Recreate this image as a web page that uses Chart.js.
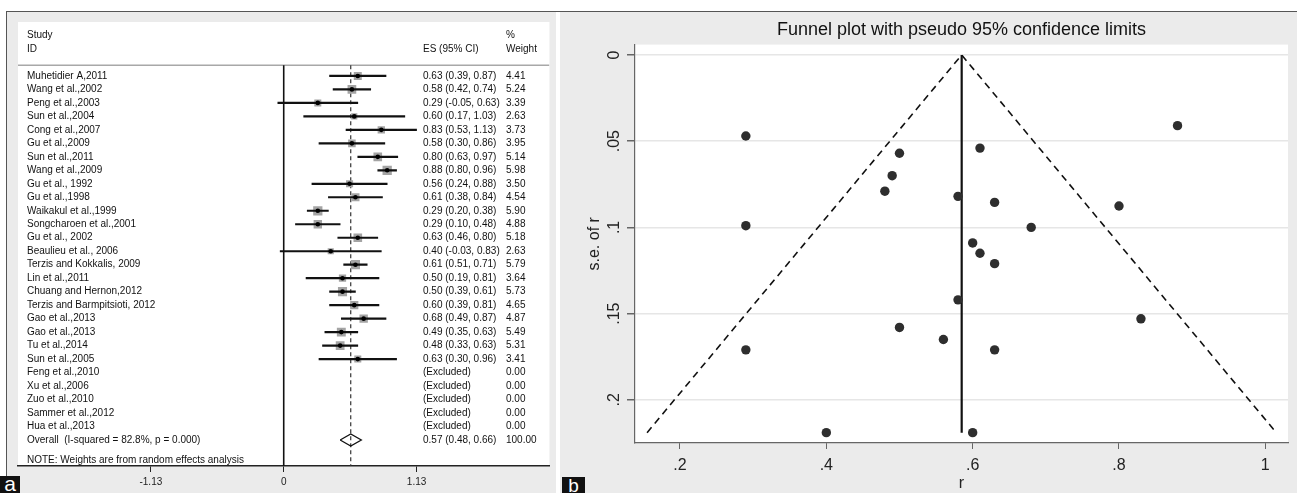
<!DOCTYPE html>
<html>
<head>
<meta charset="utf-8">
<script src="https://cdn.jsdelivr.net/npm/chart.js@4.4.1/dist/chart.umd.min.js"></script>
<style>
  body { margin: 0; width: 1297px; height: 493px; position: relative; overflow: hidden; background: #fff; font-family: "Liberation Sans", Arial, sans-serif; }
  .panel { position: absolute; background: #ebebeb; }
  canvas { position: absolute; }
  .tag { position: absolute; background: #111; color: #fff; text-align: center; overflow: hidden; }
</style>
</head>
<body>
<div class="panel" style="left:6px;top:11px;width:550px;height:482px;border-left:1px solid #555;box-sizing:border-box"></div>
<div class="panel" style="left:560px;top:11px;width:737px;height:482px"></div>
<div style="position:absolute;left:6px;top:11px;width:1291px;height:1px;background:#555"></div>
<canvas id="forest" width="550" height="481" style="left:6px;top:12px"></canvas>
<canvas id="funnel" width="737" height="481" style="left:560px;top:12px"></canvas>
<div class="tag" style="left:0;top:476px;width:20px;height:17px;font-size:21px;line-height:15px">a</div>
<div class="tag" style="left:562px;top:477px;width:23px;height:16px;font-size:19px;line-height:17px">b</div>
<script>
// ---- forest plot data (panel a) ----
const studies = [
  "Muhetidier A,2011", "Wang et al.,2002", "Peng et al.,2003", "Sun et al.,2004", "Cong et al.,2007",
  "Gu et al.,2009", "Sun et al.,2011", "Wang et al.,2009", "Gu et al., 1992", "Gu et al.,1998",
  "Waikakul et al.,1999", "Songcharoen et al.,2001", "Gu et al., 2002", "Beaulieu et al., 2006",
  "Terzis and Kokkalis, 2009", "Lin et al.,2011", "Chuang and Hernon,2012", "Terzis and Barmpitsioti, 2012",
  "Gao et al.,2013", "Gao et al.,2013", "Tu et al.,2014", "Sun et al.,2005",
  "Feng et al.,2010", "Xu et al.,2006", "Zuo et al.,2010", "Sammer et al.,2012", "Hua et al.,2013"
];
const esVals = [0.63, 0.58, 0.29, 0.60, 0.83, 0.58, 0.80, 0.88, 0.56, 0.61, 0.29, 0.29, 0.63, 0.40,
  0.61, 0.50, 0.50, 0.60, 0.68, 0.49, 0.48, 0.63, null, null, null, null, null];
const ciLow = [0.39, 0.42, -0.05, 0.17, 0.53, 0.30, 0.63, 0.80, 0.24, 0.38, 0.20, 0.10, 0.46, -0.03,
  0.51, 0.19, 0.39, 0.39, 0.49, 0.35, 0.33, 0.30, null, null, null, null, null];
const ciHigh = [0.87, 0.74, 0.63, 1.03, 1.13, 0.86, 0.97, 0.96, 0.88, 0.84, 0.38, 0.48, 0.80, 0.83,
  0.71, 0.81, 0.61, 0.81, 0.87, 0.63, 0.63, 0.96, null, null, null, null, null];
const weights = [4.41, 5.24, 3.39, 2.63, 3.73, 3.95, 5.14, 5.98, 3.50, 4.54, 5.90, 4.88, 5.18, 2.63,
  5.79, 3.64, 5.73, 4.65, 4.87, 5.49, 5.31, 3.41, 0, 0, 0, 0, 0];
const overallES = 0.57, overallLow = 0.48, overallHigh = 0.66, overallWeight = 100;
const overallLabel = "Overall  (I-squared = 82.8%, p = 0.000)";
const noteLabel = "NOTE: Weights are from random effects analysis";
const forestTicks = [-1.13, 0, 1.13];

// ---- funnel plot data (panel b) ----
const funnelR = [0.29, 0.29, 0.50, 0.49, 0.48, 0.58, 0.60, 0.88, 0.61, 0.63, 0.80, 0.68, 0.61, 0.63,
  0.83, 0.63, 0.60, 0.58, 0.50, 0.56, 0.29, 0.40];
const funnelSE = [0.047, 0.099, 0.057, 0.070, 0.079, 0.082, 0.109, 0.041, 0.054, 0.0855, 0.0876, 0.100,
  0.115, 0.121, 0.153, 0.171, 0.219, 0.142, 0.158, 0.165, 0.171, 0.219];
const funnelApex = [0.585, 0];
const funnelLimitsR = [0.155, 0.585, 1.015];
const funnelLimitsSE = [0.219, 0, 0.219];
const funnelTicksR = [0.2, 0.4, 0.6, 0.8, 1];
const funnelTicksSE = [0, 0.05, 0.1, 0.15, 0.2];

const FONT = '"Liberation Sans", Arial, sans-serif';
const fmt2 = v => v.toFixed(2);
const stataLabel = v => (v === 0 || v === 1) ? String(v) : String(+v.toFixed(2)).replace(/^0/, '');

const whiteArea = {
  id: 'whiteArea',
  beforeDraw(chart) {
    const { ctx, chartArea: a } = chart;
    ctx.save();
    ctx.fillStyle = '#fff';
    ctx.fillRect(a.left, a.top, a.right - a.left, a.bottom - a.top);
    ctx.restore();
  }
};

// ---- panel a ----
const rows = studies.map((s, i) => i);
const overallRow = studies.length;
const lineTop = -0.8, lineBottom = 28.93;

const squarePts = [], dotPts = [], ciBars = [], squareRadius = [];
esVals.forEach((v, i) => {
  if (v === null) return;
  squarePts.push({ x: v, y: rows[i] });
  squareRadius.push(3.8 * Math.sqrt(weights[i]) / 1.414);
  dotPts.push({ x: v, y: rows[i] });
  ciBars.push({ x: [ciLow[i], ciHigh[i]], y: rows[i] });
});

const forestText = {
  id: 'forestText',
  afterDatasetsDraw(chart) {
    const { ctx, chartArea: a, scales: { y } } = chart;
    ctx.save();
    ctx.font = '10px ' + FONT;
    ctx.fillStyle = '#111';
    ctx.textBaseline = 'middle';
    const cName = a.left + 9, cES = a.left + 405, cW = a.left + 488;
    ctx.fillText('Study', cName, y.getPixelForValue(-3));
    ctx.fillText('ID', cName, y.getPixelForValue(-2));
    ctx.fillText('ES (95% CI)', cES, y.getPixelForValue(-2));
    ctx.fillText('%', cW, y.getPixelForValue(-3));
    ctx.fillText('Weight', cW, y.getPixelForValue(-2));
    studies.forEach((s, i) => {
      const py = y.getPixelForValue(rows[i]);
      ctx.fillText(s, cName, py);
      const es = esVals[i] === null ? '(Excluded)' :
        `${fmt2(esVals[i])} (${fmt2(ciLow[i])}, ${fmt2(ciHigh[i])})`;
      ctx.fillText(es, cES, py);
      ctx.fillText(fmt2(weights[i]), cW, py);
    });
    const po = y.getPixelForValue(overallRow);
    ctx.fillText(overallLabel, cName, po);
    ctx.fillText(`${fmt2(overallES)} (${fmt2(overallLow)}, ${fmt2(overallHigh)})`, cES, po);
    ctx.fillText(fmt2(overallWeight), cW, po);
    ctx.fillText(noteLabel, cName, y.getPixelForValue(28.5));
    ctx.restore();
  }
};

new Chart(document.getElementById('forest'), {
  type: 'scatter',
  data: {
    datasets: [
      { type: 'scatter', data: [{ x: -2.26, y: lineTop }, { x: 2.26, y: lineTop }], showLine: true,
        borderColor: '#a8a8a8', borderWidth: 1.5, pointRadius: 0, order: 6 },
      { type: 'scatter', data: [{ x: 0, y: lineTop }, { x: 0, y: lineBottom }], showLine: true,
        borderColor: '#111', borderWidth: 1.6, pointRadius: 0, order: 5 },
      { type: 'scatter', data: [{ x: overallES, y: lineTop }, { x: overallES, y: lineBottom }], showLine: true,
        borderColor: '#333', borderWidth: 1.2, borderDash: [4, 3], pointRadius: 0, order: 5 },
      { type: 'scatter', data: squarePts, pointStyle: 'rect', pointRadius: squareRadius,
        backgroundColor: '#a4a4a4', borderWidth: 0, order: 4 },
      { type: 'bar', indexAxis: 'y', data: ciBars, backgroundColor: '#111', barThickness: 1.5,
        grouped: false, borderWidth: 0, order: 3 },
      { type: 'scatter', data: dotPts, pointRadius: 2.3, backgroundColor: '#000', borderWidth: 0, order: 2 },
      { type: 'scatter', data: [
          { x: overallLow, y: overallRow }, { x: overallES, y: overallRow - 0.45 },
          { x: overallHigh, y: overallRow }, { x: overallES, y: overallRow + 0.45 },
          { x: overallLow, y: overallRow }],
        showLine: true, borderColor: '#111', borderWidth: 1.3, pointRadius: 0, order: 1 }
    ]
  },
  options: {
    responsive: false, animation: false, devicePixelRatio: 1,
    layout: { padding: { left: 12, right: 6, top: 10, bottom: 0 } },
    plugins: { legend: { display: false }, tooltip: { enabled: false } },
    scales: {
      x: {
        type: 'linear', min: -2.26, max: 2.26, offset: false,
        afterBuildTicks: s => { s.ticks = forestTicks.map(v => ({ value: v })); },
        afterFit: s => { s.height = 27; },
        ticks: { font: { size: 10, family: FONT }, color: '#222', padding: 4, callback: v => String(v) },
        grid: { drawOnChartArea: false, drawTicks: true, tickLength: 6, color: '#222', tickColor: '#222', offset: false },
        border: { display: true, color: '#222', width: 1.5 }
      },
      y: { type: 'linear', min: -4, max: 28.93, reverse: true, display: false, offset: false, grid: { offset: false } }
    }
  },
  plugins: [whiteArea, forestText]
});

// ---- panel b ----
const funnelYLabels = {
  id: 'funnelYLabels',
  afterDraw(chart) {
    const { ctx, chartArea: a, scales: { y } } = chart;
    ctx.save();
    ctx.font = '16px ' + FONT;
    ctx.fillStyle = '#222';
    ctx.textAlign = 'center';
    ctx.textBaseline = 'middle';
    funnelTicksSE.forEach(v => {
      ctx.save();
      ctx.translate(a.left - 20, y.getPixelForValue(v));
      ctx.rotate(-Math.PI / 2);
      ctx.fillText(stataLabel(v), 0, 0);
      ctx.restore();
    });
    ctx.restore();
  }
};

new Chart(document.getElementById('funnel'), {
  type: 'scatter',
  data: {
    datasets: [
      { data: funnelLimitsR.map((r, i) => ({ x: r, y: funnelLimitsSE[i] })), showLine: true,
        borderColor: '#111', borderWidth: 1.6, borderDash: [7, 5], pointRadius: 0, order: 3 },
      { data: [{ x: funnelApex[0], y: funnelApex[1] }, { x: funnelApex[0], y: funnelLimitsSE[0] }], showLine: true,
        borderColor: '#111', borderWidth: 2.2, pointRadius: 0, order: 2 },
      { data: funnelR.map((r, i) => ({ x: r, y: funnelSE[i] })), pointRadius: 4.7,
        backgroundColor: '#2e2e2e', borderWidth: 0, order: 1 }
    ]
  },
  options: {
    responsive: false, animation: false, devicePixelRatio: 1,
    layout: { padding: { left: 0, right: 9, top: 0, bottom: 0 } },
    plugins: {
      legend: { display: false }, tooltip: { enabled: false },
      title: { display: true, text: 'Funnel plot with pseudo 95% confidence limits', fullSize: false,
        font: { size: 18, family: FONT, weight: 'normal' }, color: '#111', padding: { top: 7, bottom: 4 } }
    },
    scales: {
      x: {
        type: 'linear', min: 0.1385, max: 1.031,
        afterBuildTicks: s => { s.ticks = funnelTicksR.map(v => ({ value: v })); },
        afterFit: s => { s.height = 50; },
        ticks: { font: { size: 16, family: FONT }, color: '#222', padding: 7, callback: v => stataLabel(v) },
        grid: { drawOnChartArea: false, drawTicks: true, tickLength: 6, tickColor: '#666' },
        border: { display: true, color: '#666', width: 1.2 },
        title: { display: true, text: 'r', font: { size: 16, family: FONT }, color: '#222', padding: { top: 0, bottom: 0 } }
      },
      y: {
        type: 'linear', min: -0.006, max: 0.225, reverse: true,
        afterBuildTicks: s => { s.ticks = funnelTicksSE.map(v => ({ value: v })); },
        afterFit: s => { s.width = 75; },
        ticks: { display: false },
        grid: { color: '#e6e6e6', lineWidth: 1.5, drawTicks: true, tickLength: 8, tickColor: '#666' },
        border: { display: true, color: '#666', width: 1.2 },
        title: { display: true, text: 's.e. of r', font: { size: 16, family: FONT }, color: '#222', padding: { top: 25, bottom: 0 } }
      }
    }
  },
  plugins: [whiteArea, funnelYLabels]
});
</script>
</body>
</html>
